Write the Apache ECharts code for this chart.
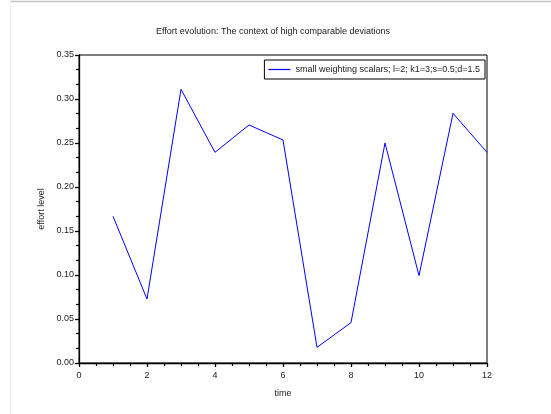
<!DOCTYPE html>
<html>
<head>
<meta charset="utf-8">
<script src="https://cdn.jsdelivr.net/npm/echarts@6/dist/echarts.min.js"></script>
<style>
html,body{margin:0;padding:0;background:#fff;}
#c{width:551px;height:414px;}
</style>
</head>
<body>
<div id="c"></div>
<script>
const times = [1, 2, 3, 4, 5, 6, 7, 8, 9, 10, 11, 12];
const effort = [0.1667, 0.0727, 0.311, 0.2394, 0.2705, 0.2534, 0.0178, 0.0459, 0.250, 0.0993, 0.2837, 0.2394];
const seriesName = 'small weighting scalars; l=2; k1=3;s=0.5;d=1.5';
const titleText = 'Effort evolution: The context of high comparable deviations';

const chart = echarts.init(document.getElementById('c'), null, {renderer: 'canvas'});
const font = '"Liberation Sans", Arial, sans-serif';
chart.setOption({
  animation: false,
  backgroundColor: '#fff',
  textStyle: {fontFamily: font},
  title: {
    text: titleText, left: 268, top: 22, textAlign: 'center',
    textStyle: {fontSize: 9, fontWeight: 'normal', color: '#222', fontFamily: font}
  },
  graphic: [
    {type: 'line', shape: {x1: 10, y1: 1.5, x2: 551, y2: 1.5}, style: {stroke: '#c4c4c4', lineWidth: 1.5}},
    {type: 'line', shape: {x1: 10.5, y1: 0, x2: 10.5, y2: 414}, style: {stroke: '#f0f0f0', lineWidth: 1}}
  ],
  legend: {
    right: 66, top: 60,
    data: [{name: seriesName, icon: 'rect'}],
    orient: 'horizontal',
    itemWidth: 22, itemHeight: 1.2, itemGap: 5,
    padding: [5, 5, 5, 4],
    borderColor: '#000', borderWidth: 1,
    backgroundColor: '#fff',
    textStyle: {fontSize: 9, color: '#222', fontFamily: font, lineHeight: 9}
  },
  grid: {
    left: 79, right: 64, top: 55, bottom: 51,
    show: true, borderColor: '#000', borderWidth: 1, backgroundColor: 'transparent'
  },
  xAxis: {
    type: 'value', min: 0, max: 12, interval: 2,
    name: 'time', nameLocation: 'middle', nameGap: 26,
    nameTextStyle: {fontSize: 9, color: '#222', fontFamily: font},
    axisLine: {show: true, onZero: false, lineStyle: {color: '#000', width: 1.3}},
    axisTick: {show: true, inside: false, length: 4, lineStyle: {color: '#000', width: 1.3}},
    minorTick: {show: true, splitNumber: 4, length: 3, lineStyle: {color: '#000', width: 1.2}},
    splitLine: {show: false},
    axisLabel: {fontSize: 9, color: '#222', margin: 8, fontFamily: font}
  },
  yAxis: {
    type: 'value', min: 0, max: 0.35, interval: 0.05,
    name: 'effort level', nameLocation: 'middle', nameGap: 32, nameRotate: 90,
    nameTextStyle: {fontSize: 9, color: '#222', fontFamily: font},
    axisLine: {show: true, onZero: false, lineStyle: {color: '#000', width: 1.3}},
    axisTick: {show: true, inside: false, length: 4, lineStyle: {color: '#000', width: 1.3}},
    minorTick: {show: true, splitNumber: 3, length: 3, lineStyle: {color: '#000', width: 1.2}},
    splitLine: {show: false},
    axisLabel: {fontSize: 9, color: '#222', margin: 5, fontFamily: font, formatter: v => v.toFixed(2)}
  },
  series: [{
    name: seriesName, type: 'line',
    data: times.map((t, i) => [t, effort[i]]),
    symbol: 'none', showSymbol: false,
    lineStyle: {color: '#0000ff', width: 1},
    itemStyle: {color: '#0000ff'}
  }]
});
</script>
</body>
</html>
